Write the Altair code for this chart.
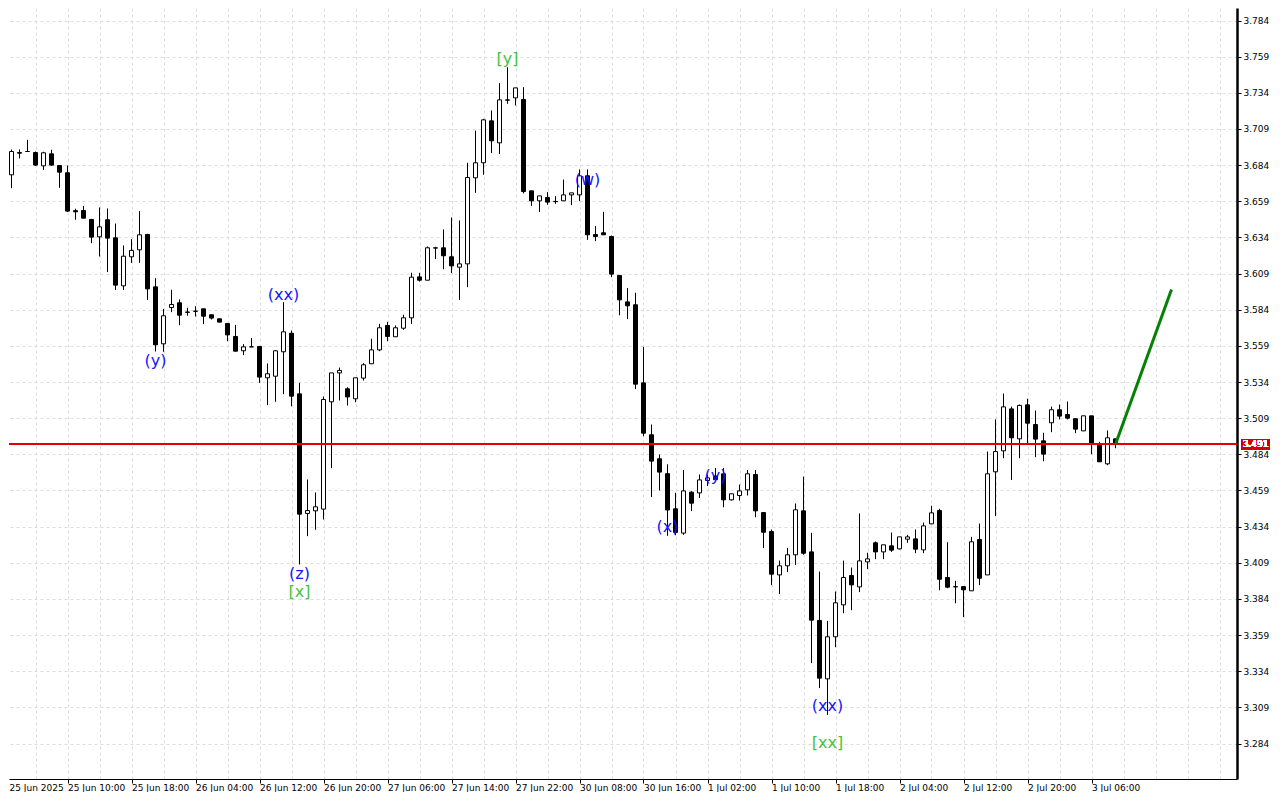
import altair as alt
import pandas as pd

# ---- candle data (hourly bars, index 0..139) ----
opens = [3.6694, 3.6773, 3.6922, 3.6934, 3.6927, 3.6835, 3.6918, 3.6837, 3.6787, 3.6525,
         3.6526, 3.6464, 3.6344, 3.6462, 3.6337, 3.6005, 3.6206, 3.6254, 3.6360, 3.5998,
         3.5604, 3.5855, 3.5888, 3.5824, 3.5830, 3.5846, 3.5805, 3.5777, 3.5745, 3.5655,
         3.5556, 3.5583, 3.5586, 3.5369, 3.5380, 3.5549, 3.5677, 3.5258, 3.4431, 3.4449,
         3.4461, 3.5203, 3.5403, 3.5293, 3.5224, 3.5367, 3.5466, 3.5562, 3.5731, 3.5653,
         3.5712, 3.5784, 3.6067, 3.6044, 3.6266, 3.6268, 3.6206, 3.6134, 3.6157, 3.6752,
         3.6856, 3.7146, 3.6994, 3.7291, 3.7305, 3.7294, 3.6662, 3.6593, 3.6616, 3.6589,
         3.6593, 3.6634, 3.6634, 3.6766, 3.6360, 3.6372, 3.6346, 3.6077, 3.5894, 3.5874,
         3.5334, 3.4975, 3.4809, 3.4706, 3.4463, 3.4295, 3.4578, 3.4573, 3.4659, 3.4690,
         3.4705, 3.4525, 3.4555, 3.4594, 3.4700, 3.4437, 3.4306, 3.4006, 3.4069, 3.4145,
         3.4449, 3.4165, 3.3691, 3.3287, 3.3578, 3.3799, 3.4002, 3.3923, 3.4096, 3.4228,
         3.4165, 3.4207, 3.4186, 3.4253, 3.4255, 3.4179, 3.4359, 3.4451, 3.3988, 3.3925,
         3.3925, 3.3896, 3.4251, 3.4006, 3.4719, 3.4864, 3.5154, 3.4947, 3.5182, 3.5046,
         3.4933, 3.5058, 3.5148, 3.5115, 3.5086, 3.5002, 3.5106, 3.4912, 3.4774, 3.4947]
highs = [3.6820, 3.6948, 3.6948, 3.7015, 3.6934, 3.6932, 3.6946, 3.6837, 3.6837, 3.6538,
         3.6558, 3.6468, 3.6547, 3.6540, 3.6436, 3.6284, 3.6328, 3.6522, 3.6365, 3.6058,
         3.5846, 3.5978, 3.5911, 3.5853, 3.5864, 3.5848, 3.5805, 3.5777, 3.5745, 3.5735,
         3.5602, 3.5645, 3.5586, 3.5468, 3.5560, 3.5892, 3.5696, 3.5334, 3.4666, 3.4576,
         3.5240, 3.5403, 3.5440, 3.5304, 3.5369, 3.5470, 3.5639, 3.5742, 3.5756, 3.5731,
         3.5805, 3.6095, 3.6095, 3.6277, 3.6275, 3.6395, 3.6478, 3.6457, 3.6856, 3.7079,
         3.7160, 3.7218, 3.7407, 3.7517, 3.7374, 3.7379, 3.6662, 3.6627, 3.6653, 3.6625,
         3.6740, 3.6648, 3.6810, 3.6810, 3.6418, 3.6517, 3.6353, 3.6077, 3.5989, 3.5957,
         3.5583, 3.5046, 3.4839, 3.4771, 3.4574, 3.4732, 3.4585, 3.4700, 3.4700, 3.4746,
         3.4746, 3.4567, 3.4631, 3.4732, 3.4732, 3.4437, 3.4320, 3.4105, 3.4193, 3.4500,
         3.4686, 3.4297, 3.4029, 3.3688, 3.3891, 3.4105, 3.4057, 3.4431, 3.4159, 3.4237,
         3.4214, 3.4299, 3.4269, 3.4283, 3.4320, 3.4368, 3.4484, 3.4463, 3.4232, 3.3965,
         3.3925, 3.4269, 3.4361, 3.4859, 3.5081, 3.5260, 3.5170, 3.5184, 3.5224, 3.5143,
         3.4989, 3.5170, 3.5184, 3.5205, 3.5086, 3.5106, 3.5106, 3.4926, 3.5005, 3.4947]
lows = [3.6670, 3.6680, 3.6886, 3.6932, 3.6835, 3.6807, 3.6835, 3.6683, 3.6515, 3.6462,
        3.6473, 3.6300, 3.6208, 3.6100, 3.5977, 3.5977, 3.6164, 3.6164, 3.5908, 3.5551,
        3.5549, 3.5823, 3.5733, 3.5798, 3.5793, 3.5740, 3.5772, 3.5754, 3.5622, 3.5553,
        3.5526, 3.5583, 3.5334, 3.5180, 3.5203, 3.5256, 3.5172, 3.4078, 3.4274, 3.4318,
        3.4389, 3.4744, 3.5212, 3.5177, 3.5200, 3.5350, 3.5466, 3.5553, 3.5622, 3.5653,
        3.5701, 3.5742, 3.6035, 3.6044, 3.6190, 3.6120, 3.6093, 3.5908, 3.5996, 3.6648,
        3.6773, 3.6923, 3.6916, 3.7264, 3.7252, 3.6644, 3.6558, 3.6515, 3.6565, 3.6572,
        3.6593, 3.6563, 3.6591, 3.6323, 3.6314, 3.6358, 3.6065, 3.5801, 3.5775, 3.5291,
        3.4965, 3.4544, 3.4590, 3.4276, 3.4280, 3.4283, 3.4447, 3.4537, 3.4620, 3.4655,
        3.4474, 3.4520, 3.4520, 3.4555, 3.4405, 3.4191, 3.3935, 3.3873, 3.4025, 3.4075,
        3.4145, 3.3396, 3.3223, 3.3038, 3.3506, 3.3741, 3.3762, 3.3887, 3.4046, 3.4115,
        3.4115, 3.4165, 3.4182, 3.4228, 3.4156, 3.4156, 3.4359, 3.3900, 3.3914, 3.3810,
        3.3714, 3.3896, 3.3935, 3.4006, 3.4412, 3.4813, 3.4663, 3.4813, 3.4912, 3.4820,
        3.4792, 3.4993, 3.5081, 3.5081, 3.4986, 3.5002, 3.4841, 3.4788, 3.4765, 3.4882]
closes = [3.6787, 3.6934, 3.6927, 3.6934, 3.6840, 3.6925, 3.6840, 3.6791, 3.6522, 3.6517,
          3.6473, 3.6342, 3.6413, 3.6335, 3.6010, 3.6210, 3.6250, 3.6358, 3.5984, 3.5597,
          3.5798, 3.5876, 3.5802, 3.5822, 3.5829, 3.5795, 3.5782, 3.5754, 3.5666, 3.5553,
          3.5583, 3.5583, 3.5374, 3.5397, 3.5556, 3.5687, 3.5242, 3.4426, 3.4451, 3.4477,
          3.5219, 3.5403, 3.5420, 3.5237, 3.5369, 3.5459, 3.5562, 3.5715, 3.5655, 3.5715,
          3.5784, 3.6065, 3.6044, 3.6268, 3.6268, 3.6213, 3.6143, 3.6157, 3.6754, 3.6856,
          3.7153, 3.7008, 3.7291, 3.7289, 3.7374, 3.6657, 3.6593, 3.6627, 3.6584, 3.6587,
          3.6634, 3.6648, 3.6766, 3.6358, 3.6346, 3.6358, 3.6086, 3.5908, 3.5867, 3.5325,
          3.4986, 3.4793, 3.4717, 3.4455, 3.4300, 3.4587, 3.4502, 3.4663, 3.4677, 3.4665,
          3.4525, 3.4567, 3.4587, 3.4705, 3.4449, 3.4301, 3.4011, 3.4069, 3.4145, 3.4456,
          3.4156, 3.3693, 3.3292, 3.3578, 3.3813, 3.3988, 3.3937, 3.4103, 3.4117, 3.4165,
          3.4214, 3.4177, 3.4269, 3.4269, 3.4184, 3.4345, 3.4435, 3.3976, 3.3921, 3.3923,
          3.3903, 3.4235, 3.3983, 3.4705, 3.4859, 3.5168, 3.4954, 3.5178, 3.5055, 3.4945,
          3.4841, 3.5148, 3.5104, 3.5090, 3.5014, 3.5106, 3.4910, 3.4788, 3.4954, 3.4910]

# ---- axis labels ----
time_labels = ["25 Jun 2025", "25 Jun 10:00", "25 Jun 18:00", "26 Jun 04:00", "26 Jun 12:00",
               "26 Jun 20:00", "27 Jun 06:00", "27 Jun 14:00", "27 Jun 22:00", "30 Jun 08:00",
               "30 Jun 16:00", "1 Jul 02:00", "1 Jul 10:00", "1 Jul 18:00", "2 Jul 04:00",
               "2 Jul 12:00", "2 Jul 20:00", "3 Jul 06:00"]
price_ticks = [3.284, 3.309, 3.334, 3.359, 3.384, 3.409, 3.434, 3.459, 3.484, 3.509, 3.534,
               3.559, 3.584, 3.609, 3.634, 3.659, 3.684, 3.709, 3.734, 3.759, 3.784]

# ---- wave labels ----
wave_text = ["(y)", "(xx)", "(z)", "[x]", "[y]", "(w)", "(x)", "(y)", "(xx)", "[xx]"]
wave_bar = [19, 35, 37, 37, 63, 73, 83, 89, 103, 103]
wave_price = [3.5482, 3.5945, 3.4009, 3.3885, 3.7577, 3.6740, 3.4334, 3.4687, 3.3096, 3.2845]

# ---- current price and projection ----
current_price = 3.491
proj_bar = [139, 146]
proj_price = [3.491, 3.598]

candles = pd.DataFrame({"i": list(range(len(opens))), "open": opens, "high": highs,
                        "low": lows, "close": closes})
waves = pd.DataFrame({"i": wave_bar, "p": wave_price, "t": wave_text,
                      "c": ["#1414ff" if t.startswith("(") else "#3fc43f" for t in wave_text]})
proj = pd.DataFrame({"i": proj_bar, "p": proj_price})

X_MIN, X_MAX = 0.6875, 154.1875
Y_MIN, Y_MAX = 3.25945, 3.792645
xs = alt.Scale(domain=[X_MIN, X_MAX], nice=False, zero=False, padding=0)
ys = alt.Scale(domain=[Y_MIN, Y_MAX], nice=False, zero=False, padding=0)

last_label = 8 * (len(time_labels) - 1)
label_expr = ("datum.value < 1 ? '" + time_labels[0] + "' : ((datum.value % 8 == 0 && datum.value <= "
              + str(last_label) + ") ? [" + ",".join("'" + s + "'" for s in time_labels)
              + "][datum.value / 8] : '')")

x_axis = alt.Axis(values=[X_MIN] + list(range(4, 154, 4)), labelExpr=label_expr,
                  labelAlign="left", labelBaseline="top", labelPadding=0,
                  labelFlush=False, labelOverlap=False, tickSize=4, tickColor="black",
                  tickOpacity={"condition": {"test": "datum.value % 8 == 0 && datum.value <= "
                                             + str(last_label), "value": 1}, "value": 0},
                  grid=True,
                  gridOpacity={"condition": {"test": "datum.value % 4 == 0", "value": 1}, "value": 0},
                  gridColor="#dcdcdc", gridDash=[3, 3], domainColor="black", domainWidth=1,
                  labelFont="DejaVu Sans", labelFontSize=9, labelColor="black", title=None)
y_axis = alt.Axis(orient="right", values=price_ticks, format=".3f", labelAlign="left",
                  labelBaseline="middle", tickSize=4, labelPadding=2, grid=True,
                  gridColor="#dcdcdc", gridDash=[3, 3], domainColor="black", domainWidth=2.5,
                  tickColor="black", labelFont="DejaVu Sans", labelFontSize=9,
                  labelColor="black", title=None)


def X(field):
    return alt.X(field, scale=xs, axis=x_axis)


def Y(field):
    return alt.Y(field, scale=ys, axis=y_axis)


wicks = alt.Chart(candles).mark_rule(color="black", strokeWidth=1, clip=True).encode(
    x=X("i:Q"), y=Y("low:Q"), y2="high:Q",
)
bodies = alt.Chart(candles).mark_bar(width=4, stroke="black", strokeWidth=1, clip=True).encode(
    x=X("i:Q"), y=Y("open:Q"), y2="close:Q",
    fill=alt.condition("datum.open > datum.close", alt.value("black"), alt.value("white")),
)
price_line = alt.Chart(candles).mark_rule(color="#e00000", strokeWidth=1).encode(
    y=alt.Y(datum=current_price, scale=ys, axis=y_axis)
)
projection = alt.Chart(proj).mark_line(color="#058205", strokeWidth=3).encode(
    x=X("i:Q"), y=Y("p:Q"),
)
labels = alt.Chart(waves).mark_text(font="DejaVu Sans", fontSize=16, align="center",
                                    baseline="middle").encode(
    x=X("i:Q"), y=Y("p:Q"),
    text="t:N",
    color=alt.Color("c:N", scale=None),
)
tag_box = alt.Chart(candles).mark_rect(color="#d00000").encode(
    x=alt.value(1232), x2=alt.value(1261),
    y=alt.Y(datum=current_price + 0.0035, scale=ys, axis=y_axis),
    y2=alt.Y2(datum=current_price - 0.0035),
)
tag_text = alt.Chart(candles).mark_text(color="white", font="DejaVu Sans", fontSize=9,
                                        align="center", baseline="middle").encode(
    x=alt.value(1246.5),
    y=alt.Y(datum=current_price, scale=ys, axis=y_axis),
    text=alt.value(f"{current_price:.3f}"),
)

chart = alt.layer(wicks, bodies, price_line, projection, labels, tag_box, tag_text).properties(
    width=1228, height=771, padding=0, background="white"
).configure_view(stroke=None)

chart.save("out.html", embed_options={"renderer": "svg", "actions": False})
